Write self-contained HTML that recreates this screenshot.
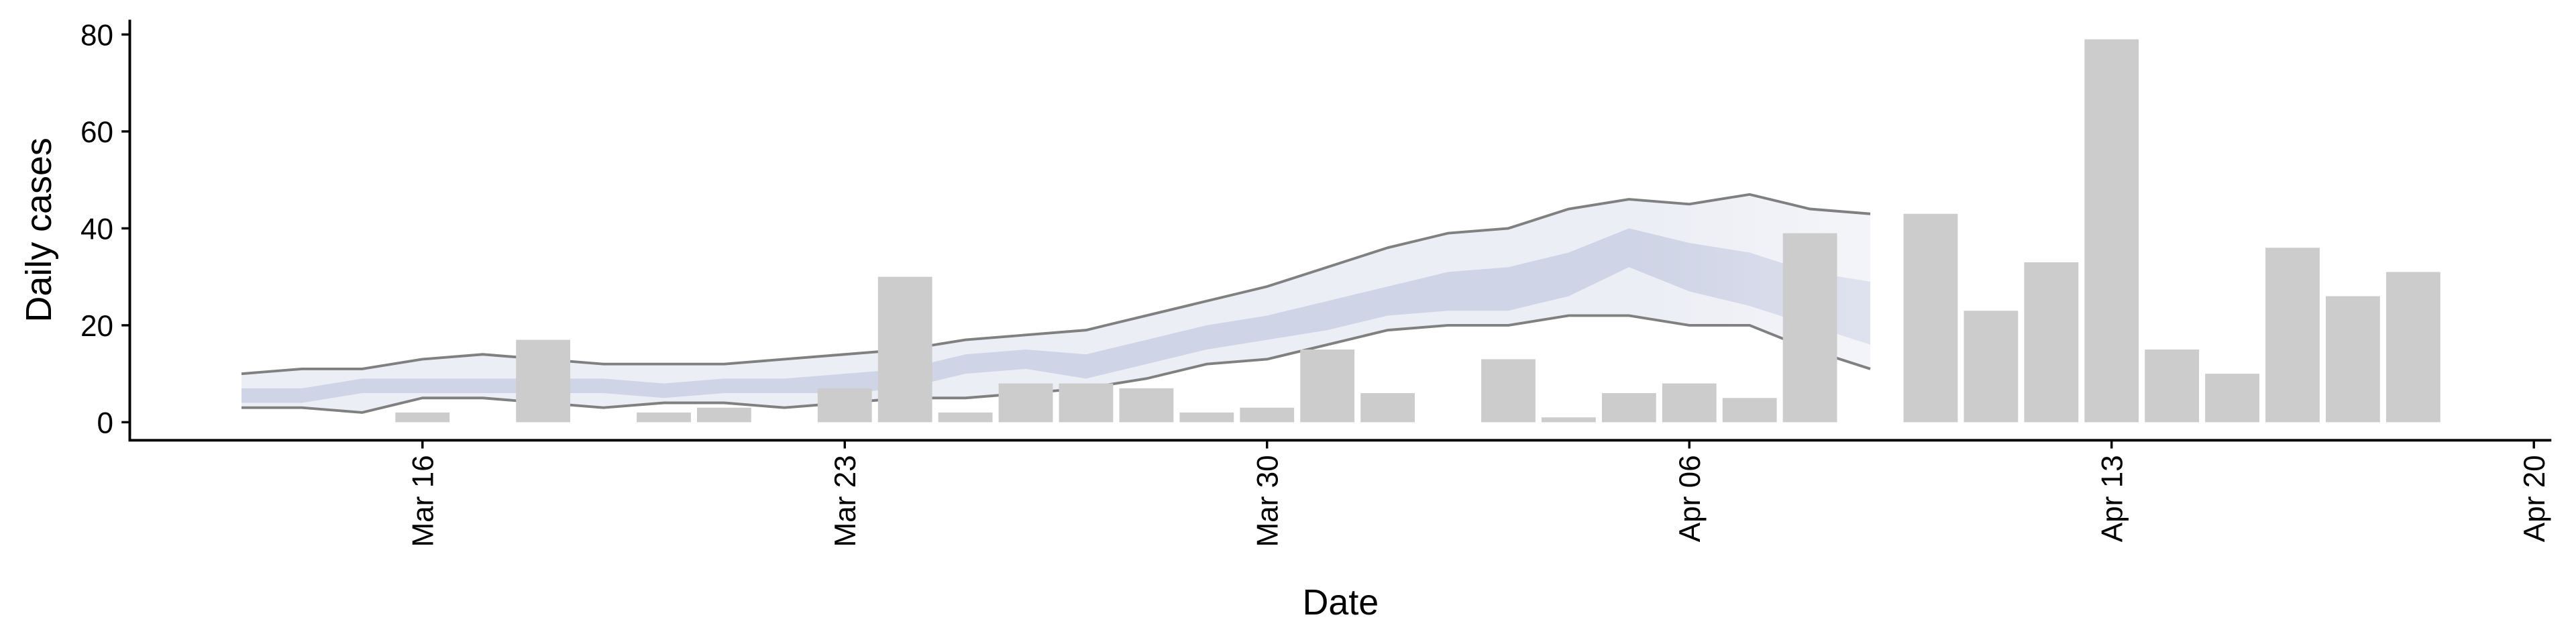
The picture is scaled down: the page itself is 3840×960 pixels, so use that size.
<!DOCTYPE html>
<html><head><meta charset="utf-8"><style>
html,body{margin:0;padding:0;background:#fff;}
svg{display:block;font-family:"Liberation Sans",sans-serif;}
</style></head><body>
<svg id="chart" width="3840" height="960" viewBox="0 0 1568 392" xmlns="http://www.w3.org/2000/svg">
<defs>
<linearGradient id="fadeOuter" gradientUnits="userSpaceOnUse" x1="1000" x2="1140" y1="0" y2="0">
<stop offset="0" stop-color="#eceef5" stop-opacity="1"/><stop offset="1" stop-color="#eceef5" stop-opacity="0.6"/></linearGradient>
<linearGradient id="fadeInner" gradientUnits="userSpaceOnUse" x1="1000" x2="1140" y1="0" y2="0">
<stop offset="0" stop-color="#cfd4e6" stop-opacity="1"/><stop offset="1" stop-color="#cfd4e6" stop-opacity="0.55"/></linearGradient>
</defs>
<g id="plot"></g>
</svg>
<script>
// Bars: day offsets from Mar 13 and daily case counts
const barDays = [3,5,7,8,10,11,12,13,14,15,16,17,18,19,21,22,23,24,25,26,28,29,30,31,32,33,34,35,36];
const barValues = [2,17,2,3,7,30,2,8,8,7,2,3,15,6,13,1,6,8,5,39,43,23,33,79,15,10,36,26,31];
// Estimate bands (day offsets 0..27 from Mar 13)
const outerUpper = [10,11,11,13,14,13,12,12,12,13,14,15,17,18,19,22,25,28,32,36,39,40,44,46,45,47,44,43];
const outerLower = [3,3,2,5,5,4,3,4,4,3,4,5,5,6,7,9,12,13,16,19,20,20,22,22,20,20,15,11];
const innerUpper = [7,7,9,9,9,9,9,8,9,9,10,11,14,15,14,17,20,22,25,28,31,32,35,40,37,35,31,29];
const innerLower = [4,4,6,6,6,6,6,5,6,6,6,7,10,11,9,12,15,17,19,22,23,23,26,32,27,24,20,16];
const yTicks = [0,20,40,60,80];
const xTickDays = [3,10,17,24,31,38];
const xTickLabels = ["Mar 16","Mar 23","Mar 30","Apr 06","Apr 13","Apr 20"];

const NS="http://www.w3.org/2000/svg";
const g=document.getElementById('plot');
const x=d=>147+d*36.72;
const y=v=>257-v*2.95;
function el(t,a){const e=document.createElementNS(NS,t);for(const k in a)e.setAttribute(k,a[k]);g.appendChild(e);return e;}

function band(up,lo,fill,name){
  let p=up.map((v,i)=>x(i)+','+y(v));
  for(let i=lo.length-1;i>=0;i--)p.push(x(i)+','+y(lo[i]));
  const e=el('polygon',{points:p.join(' '),fill:fill});
  
  
}
band(outerUpper,outerLower,'url(#fadeOuter)','outer-band');
band(innerUpper,innerLower,'url(#fadeInner)','inner-band');
function line(arr,name){
  const e=el('polyline',{points:arr.map((v,i)=>x(i)+','+y(v)).join(' '),fill:'none',stroke:'#808080','stroke-width':1.6});
  
  
}
line(outerUpper,'upper-bound-line');
line(outerLower,'lower-bound-line');

barDays.forEach((d,i)=>{
  const w=33;
  const r=el('rect',{x:x(d)-w/2,y:y(barValues[i]),width:w,height:Math.max(0.1,y(0)-y(barValues[i])),fill:'#cccccc'});
  
  
});

// axes
let a=el('line',{x1:79,y1:12,x2:79,y2:268,stroke:'#000','stroke-width':1.6});


a=el('line',{x1:78.2,y1:268,x2:1553,y2:268,stroke:'#000','stroke-width':1.6});


yTicks.forEach(v=>{
  const t=el('line',{x1:74,x2:79,y1:y(v),y2:y(v),stroke:'#000','stroke-width':1.4});
  
  
  const l=el('text',{x:69,y:y(v)+6.5,'text-anchor':'end','font-size':18,fill:'#000'});
  l.textContent=v;
  
  
});
xTickDays.forEach((d,i)=>{
  const t=el('line',{x1:x(d),x2:x(d),y1:268,y2:273,stroke:'#000','stroke-width':1.4});
  
  
  const l=el('text',{x:0,y:0,'text-anchor':'end','font-size':18,fill:'#000',transform:`translate(${x(d)+6.5},277) rotate(-90)`});
  l.textContent=xTickLabels[i];
  
  
});
let t=el('text',{x:816,y:374,'text-anchor':'middle','font-size':22,fill:'#000'});
t.textContent='Date';


t=el('text',{x:0,y:0,'text-anchor':'middle','font-size':22,fill:'#000',transform:'translate(31,140) rotate(-90)'});
t.textContent='Daily cases';


</script>
</body></html>
